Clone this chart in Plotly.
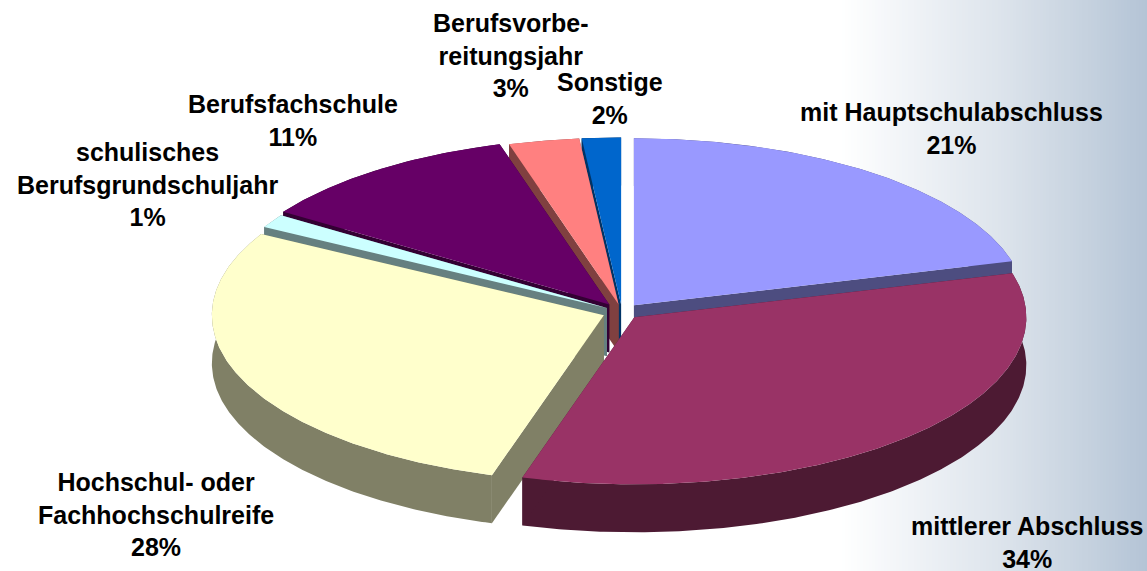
import math
import plotly.graph_objects as go

# Data (clockwise from 12 o'clock)
categories = ["mit Hauptschulabschluss", "mittlerer Abschluss", "Hochschul- oder<br>Fachhochschulreife",
              "schulisches<br>Berufsgrundschuljahr", "Berufsfachschule", "Berufsvorbe-<br>reitungsjahr", "Sonstige"]
values = [20.7, 33.8, 28.4, 1.3, 11.1, 2.9, 1.6]

# Styles
top_colors = ["#9999FF", "#993366", "#FFFFCC", "#CCFFFF", "#660066", "#FF8080", "#0066CC"]
side_colors = ["#4D4D80", "#4D1A33", "#808066", "#668080", "#330033", "#804040", "#003366"]
draw_order = [6, 5, 4, 3, 0, 2, 1]
explode = [0.05, 0.045, 0.05, 0.045, 0.055, 0.045, 0.045]
label_x = [951, 1027, 156, 147, 293, 511, 610]
label_y = [128, 542, 514, 184, 120, 55, 98]

W, H = 1147, 571
CX, CY, RX, RY = 622, 312, 392, 167
DEPTH = 48

fig = go.Figure()

# Background gradient
grad_x = list(range(840, W + 2, 3))
fig.add_trace(go.Heatmap(
    x=[0] + grad_x, y=[0, H],
    z=[[840] + grad_x, [840] + grad_x],
    colorscale=[[0, "#FFFFFF"], [0.06, "#FBFCFD"], [0.52, "#DDE4EC"], [0.8, "#C6D2DF"], [1, "#B4C4D6"]],
    showscale=False, hoverinfo="skip"))


def poly(xs, ys, color):
    fig.add_trace(go.Scatter(x=xs, y=ys, mode="lines", fill="toself", fillcolor=color,
                             line=dict(width=0, color=color), hoverinfo="skip", showlegend=False))


total = sum(values)
starts, c = [], 0.0
for v in values:
    starts.append(c)
    c += v / total * 360

for i in draw_order:
    a0 = starts[i]
    a1 = a0 + values[i] / total * 360
    mid = math.radians((a0 + a1) / 2)
    ax = CX + explode[i] * RX * math.sin(mid)
    ay = CY - explode[i] * RY * math.cos(mid)
    n = max(2, int(a1 - a0) * 2)
    angs = [math.radians(a0 + (a1 - a0) * k / n) for k in range(n + 1)]
    ex = [ax + RX * math.sin(t) for t in angs]
    ey = [ay - RY * math.cos(t) for t in angs]
    # outer wall
    poly(ex + ex[::-1], ey + [y + DEPTH for y in ey[::-1]], side_colors[i])
    # cut faces
    poly([ax, ex[0], ex[0], ax], [ay, ey[0], ey[0] + DEPTH, ay + DEPTH], side_colors[i])
    poly([ax, ex[-1], ex[-1], ax], [ay, ey[-1], ey[-1] + DEPTH, ay + DEPTH], side_colors[i])
    # top
    poly([ax] + ex + [ax], [ay] + ey + [ay], top_colors[i])

for name, v, lx, ly in zip(categories, values, label_x, label_y):
    fig.add_annotation(x=lx, y=ly, xref="x", yref="y", text=f"<b>{name}<br>{round(v / total * 100)}%</b>",
                       showarrow=False, align="center", xanchor="center", yanchor="middle",
                       font=dict(family="Liberation Sans", size=25, color="#000000"))

fig.update_layout(width=W, height=H, margin=dict(l=0, r=0, t=0, b=0), showlegend=False,
                  paper_bgcolor="#FFFFFF", plot_bgcolor="#FFFFFF",
                  xaxis=dict(range=[0, W], visible=False, fixedrange=True),
                  yaxis=dict(range=[H, 0], visible=False, fixedrange=True))
fig.write_html("out.html", config={"displayModeBar": False},
               post_script="document.documentElement.style.margin='0';document.body.style.margin='0';document.body.style.overflow='hidden';")
